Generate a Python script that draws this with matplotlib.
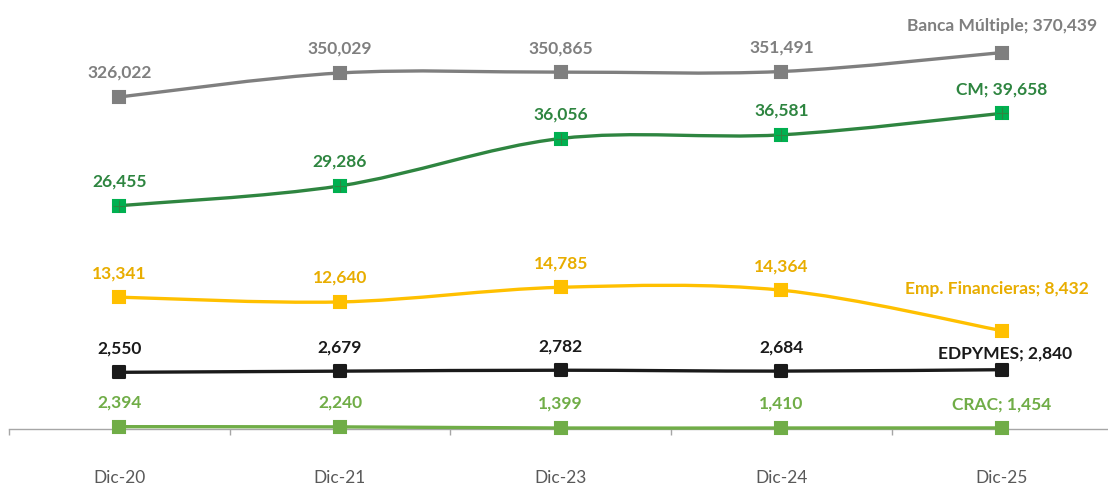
import numpy as np
import matplotlib
matplotlib.use('Agg')
import matplotlib.pyplot as plt
from matplotlib.path import Path
from matplotlib.patches import PathPatch
from matplotlib.markers import MarkerStyle

plt.rcParams['font.family'] = ['Lato', 'DejaVu Sans']

# categories
years = ['Dic-20', 'Dic-21', 'Dic-23', 'Dic-24', 'Dic-25']

# series values
banca = [326022, 350029, 350865, 351491, 370439]
cm = [26455, 29286, 36056, 36581, 39658]
emp = [13341, 12640, 14785, 14364, 8432]
edpymes = [2550, 2679, 2782, 2684, 2840]
crac = [2394, 2240, 1399, 1410, 1454]

names = ['Banca Múltiple', 'CM', 'Emp. Financieras', 'EDPYMES', 'CRAC']

# each series sits on its own (hidden) value axis, like the original
ylims = [(-6000, 424000), (-5456, 55991), (-5960, 56992), (-3742, 43988), (649, 323149)]
line_cols = ['#7f7f7f', '#2e8540', '#ffc000', '#1a1a1a', '#70ad47']
mark_cols = ['#7f7f7f', '#00b050', '#ffc000', '#1a1a1a', '#70ad47']
text_cols = ['#7f7f7f', '#2e8540', '#e8ad00', '#1a1a1a', '#70ad47']
# offset of the last label (points)
last_off = [(0, 19.7), (0, 18), (-3.4, 30.7), (2.4, 12.5), (0, 17.3)]


def smooth_path(x, y):
    # Excel-like smoothed line as cubic bezier segments
    verts = [(x[0], y[0])]
    codes = [Path.MOVETO]
    n = len(x)
    for i in range(n - 1):
        a = i - 1 if i > 0 else i
        b = i + 2 if i + 2 < n else i + 1
        c1 = (x[i] + (x[i + 1] - x[a]) / 6, y[i] + (y[i + 1] - y[a]) / 6)
        c2 = (x[i + 1] - (x[b] - x[i]) / 6, y[i + 1] - (y[b] - y[i]) / 6)
        verts += [c1, c2, (x[i + 1], y[i + 1])]
        codes += [Path.CURVE4] * 3
    return Path(verts, codes)


fig = plt.figure(figsize=(11.08, 4.89), dpi=100)
ax = fig.add_axes([8.9 / 1108, 1 - 430 / 489, 5 * 220.7 / 1108, 430 / 489])
ax.set_xlim(-0.5, 4.5)
ax.set_ylim(0, 1)
for s in ['top', 'left', 'right']:
    ax.spines[s].set_visible(False)
ax.spines['bottom'].set_color('#a6a6a6')
ax.spines['bottom'].set_linewidth(1.0)
ax.set_yticks([])
x = np.arange(len(years))
ax.set_xticks(np.arange(-0.5, 5, 1))
ax.set_xticklabels([])
ax.tick_params(axis='x', which='major', length=4, color='#a6a6a6', width=1)
ax.set_xticks(x, minor=True)
ax.set_xticklabels(years, minor=True, fontsize=12.5, color='#595959')
ax.tick_params(axis='x', which='minor', length=0, pad=29)

series = [banca, cm, emp, edpymes, crac]
for k in range(len(series))[::-1]:
    vals = series[k]
    tw = ax.twinx()
    tw.set_ylim(*ylims[k])
    tw.axis('off')
    patch = PathPatch(smooth_path(list(x), vals), facecolor='none',
                      edgecolor=line_cols[k], lw=2.4, capstyle='round',
                      clip_on=False)
    tw.add_patch(patch)
    mk = MarkerStyle('s', joinstyle='round') if k == 3 else 's'
    tw.plot(x, vals, linestyle='none', marker=mk, ms=8,
            mfc=mark_cols[k], mec=mark_cols[k], mew=1.5, clip_on=False)
    if k == 1:
        tw.plot(x, vals, linestyle='none', marker='+', ms=8, mec='#2e8540',
                mew=0.8, clip_on=False)
    for i, v in enumerate(vals):
        if i == len(vals) - 1:
            txt = f'{names[k]}; {v:,}'
            off = last_off[k]
        else:
            txt = f'{v:,}'
            off = (0, 18)
        tw.annotate(txt, (x[i], v), xytext=off, textcoords='offset points',
                    ha='center', va='center', fontsize=12.5, fontweight='bold',
                    color=text_cols[k], annotation_clip=False)

fig.savefig('out.png', dpi=100)
